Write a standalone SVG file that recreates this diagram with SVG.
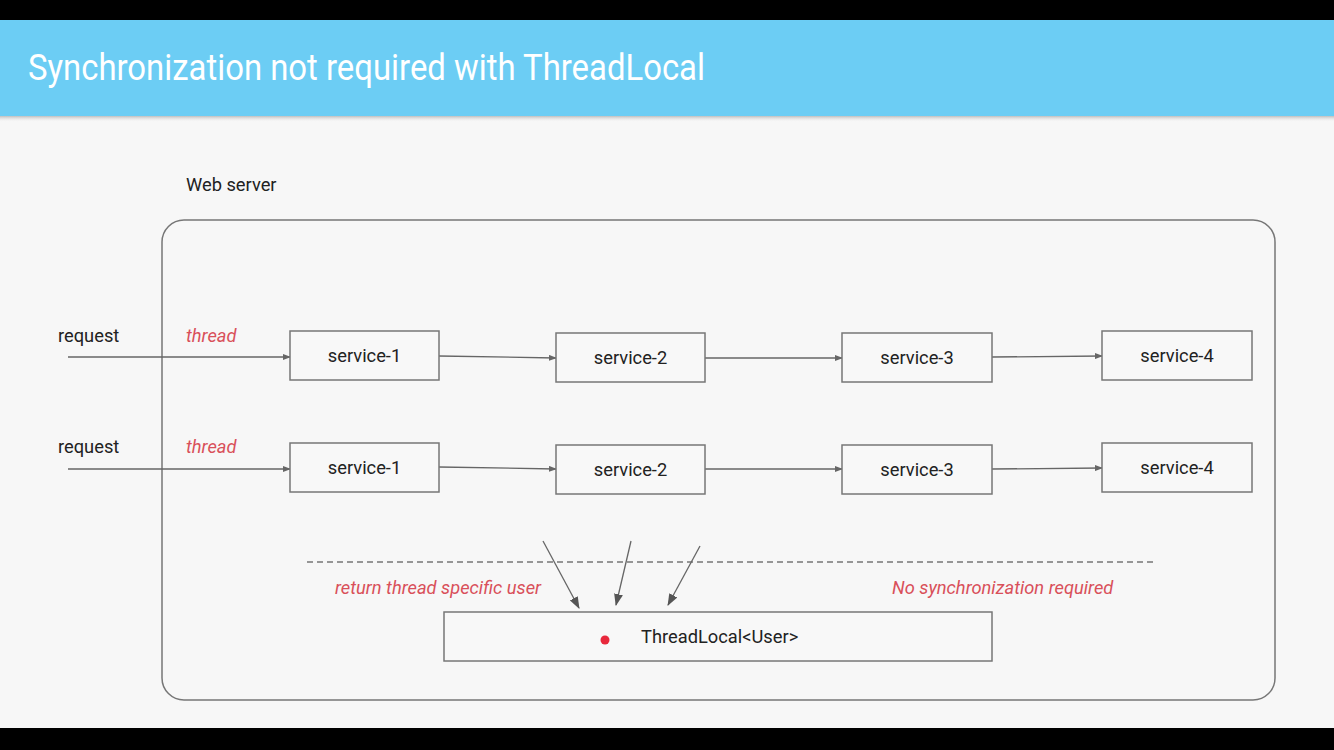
<svg xmlns="http://www.w3.org/2000/svg" width="1334" height="750" viewBox="0 0 1334 750">
<defs>
<marker id="ah" markerWidth="8" markerHeight="6" refX="7" refY="3" orient="auto" markerUnits="userSpaceOnUse">
<path d="M0,0 L8,3 L0,6 z" fill="#666"/>
</marker>
<marker id="ah2" markerWidth="12" markerHeight="9" refX="11" refY="4.5" orient="auto" markerUnits="userSpaceOnUse">
<path d="M0,0 L12,4.5 L0,9 z" fill="#555"/>
</marker>
<linearGradient id="sh" x1="0" y1="0" x2="0" y2="1">
<stop offset="0" stop-color="#999" stop-opacity="0.6"/>
<stop offset="1" stop-color="#f7f7f7" stop-opacity="0"/>
</linearGradient>
</defs>
<style>
.box{fill:#f8f8f8;stroke:#777;stroke-width:1.5}
.t{font-family:Roboto,"Liberation Sans",sans-serif;font-size:18.3px;fill:#222}
.c{text-anchor:middle}
.r{font-family:Roboto,"Liberation Sans",sans-serif;font-size:18.3px;font-style:italic;fill:#d9505a}
.ln{stroke:#666;stroke-width:1.3;fill:none}
</style>
<rect x="0" y="0" width="1334" height="750" fill="#f7f7f7"/>
<rect x="0" y="0" width="1334" height="20" fill="#000"/>
<rect x="0" y="728" width="1334" height="22" fill="#000"/>
<rect x="0" y="116" width="1334" height="6" fill="url(#sh)"/>
<rect x="0" y="20" width="1334" height="96" fill="#6ccdf4"/>
<text x="28" y="80" font-family="Roboto,'Liberation Sans',sans-serif" font-size="37" fill="#fff" textLength="677" lengthAdjust="spacingAndGlyphs">Synchronization not required with ThreadLocal</text>

<g id="webserver">
<text class="t" x="186" y="191">Web server</text>
<rect x="162" y="220" width="1113" height="480" rx="22" fill="none" stroke="#777" stroke-width="1.5"/>
</g>

<g id="labels">
<text class="t" x="58" y="342">request</text>
<text class="t" x="58" y="453">request</text>
<text class="r" x="186" y="342">thread</text>
<text class="r" x="186" y="453">thread</text>
<text class="r" x="335" y="594">return thread specific user</text>
<text class="r" x="892" y="594">No synchronization required</text>
</g>

<g id="connectors">
<line class="ln" x1="68" y1="357" x2="290" y2="357" marker-end="url(#ah)"/>
<line class="ln" x1="68" y1="469" x2="290" y2="469" marker-end="url(#ah)"/>
<line class="ln" x1="439" y1="356" x2="556" y2="358" marker-end="url(#ah)"/>
<line class="ln" x1="705" y1="358" x2="842" y2="358" marker-end="url(#ah)"/>
<line class="ln" x1="992" y1="357" x2="1102" y2="356" marker-end="url(#ah)"/>
<line class="ln" x1="439" y1="467" x2="556" y2="469" marker-end="url(#ah)"/>
<line class="ln" x1="705" y1="469" x2="842" y2="469" marker-end="url(#ah)"/>
<line class="ln" x1="992" y1="469" x2="1102" y2="468" marker-end="url(#ah)"/>
<line x1="307" y1="562" x2="1157" y2="562" stroke="#777" stroke-width="1.3" stroke-dasharray="6,4"/>
<line class="ln" x1="543" y1="541" x2="579" y2="608" stroke="#555" marker-end="url(#ah2)"/>
<line class="ln" x1="631" y1="541" x2="616" y2="605" stroke="#555" marker-end="url(#ah2)"/>
<line class="ln" x1="700" y1="546" x2="668" y2="605" stroke="#555" marker-end="url(#ah2)"/>
</g>

<g id="s1a"><rect class="box" x="290" y="331" width="149" height="49"/><text class="t c" x="364.5" y="362">service-1</text></g>
<g id="s2a"><rect class="box" x="556" y="333" width="149" height="49"/><text class="t c" x="630.5" y="364">service-2</text></g>
<g id="s3a"><rect class="box" x="842" y="333" width="150" height="49"/><text class="t c" x="917" y="364">service-3</text></g>
<g id="s4a"><rect class="box" x="1102" y="331" width="150" height="49"/><text class="t c" x="1177" y="362">service-4</text></g>
<g id="s1b"><rect class="box" x="290" y="443" width="149" height="49"/><text class="t c" x="364.5" y="474">service-1</text></g>
<g id="s2b"><rect class="box" x="556" y="445" width="149" height="49"/><text class="t c" x="630.5" y="476">service-2</text></g>
<g id="s3b"><rect class="box" x="842" y="445" width="150" height="49"/><text class="t c" x="917" y="476">service-3</text></g>
<g id="s4b"><rect class="box" x="1102" y="443" width="150" height="49"/><text class="t c" x="1177" y="474">service-4</text></g>

<g id="threadlocal">
<rect class="box" x="444" y="612" width="548" height="49"/>
<circle cx="605" cy="640" r="4.5" fill="#e8283c"/>
<text class="t" x="641" y="643">ThreadLocal&lt;User&gt;</text>
</g>
</svg>
